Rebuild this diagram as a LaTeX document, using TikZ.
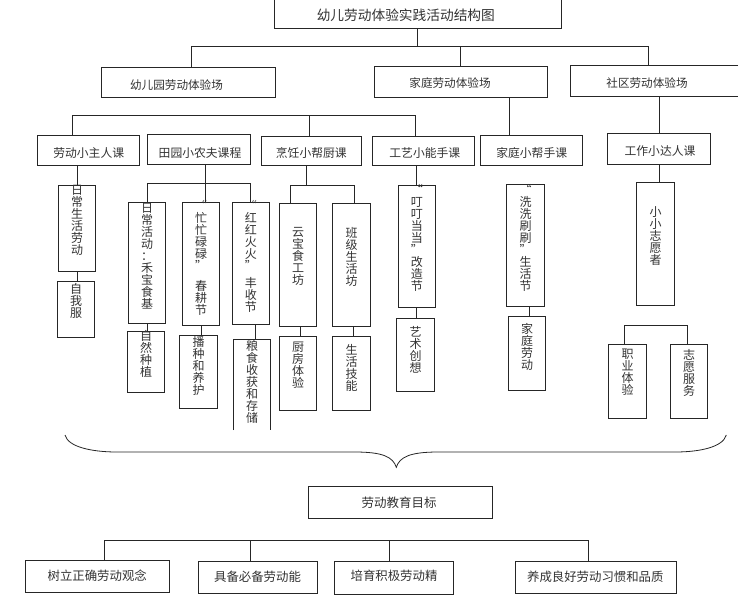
\documentclass[tikz,border=0pt]{standalone}
\usepackage{fontspec}
\newfontfamily\cjk{Noto Sans CJK SC}
\usetikzlibrary{fit}
\setlength{\lineskiplimit}{-20pt}
\tikzset{
  ln/.style={draw=black!85, line width=0.9pt},
  bx/.style={ln, inner sep=0pt},
  obx/.style={inner sep=0pt},
  hz/.style={font=\cjk\fontsize{#1}{#1}\selectfont, text=black!80, inner sep=0pt, anchor=base},
  vt/.style={font=\cjk\fontsize{12}{12}\selectfont, text=black!80, inner sep=0pt, align=center, anchor=north},
}
\newcommand\bxx[5]{\node[bx, fit={(#2,#3)(#4,#5)}] (#1) {};}
\newcommand\obxx[5]{\node[obx, fit={(#2,#3)(#4,#5)}] (#1) {};}
\newcommand\vtx[4]{\node[vt] (#1) at (#2,{#3-6.44}) {\rule{0pt}{11pt}#4};}
\begin{document}
\begin{tikzpicture}[x=1pt, y=-1pt]
\path[use as bounding box] (0,0) rectangle (754,598);
\fill[white] (0,0) rectangle (754,598);

% title
\bxx{title}{274}{-3}{561}{28}
\node[hz=13.7] (titlet) at (405.8,20.2) {幼儿劳动体验实践活动结构图};

% level 1
\bxx{k1}{101}{67}{275}{97}
\bxx{k2}{374}{66}{547.7}{97}
\obxx{k3}{571}{66}{738}{96}
\draw[ln] (k3.north east) -- (k3.north west) -- (k3.south west) -- (k3.south east);
\node[hz=11.6] (k1t) at (176.5,89.4) {幼儿园劳动体验场};
\node[hz=11.6] (k2t) at (450,87.7) {家庭劳动体验场};
\node[hz=11.6] (k3t) at (647,87.4) {社区劳动体验场};

\draw[ln] (title.south) -- ++(0,19);
\draw[ln] ([xshift=3pt]k1.north) -- ++(0,-20) -| ([xshift=-6.5pt]k3.north);
\draw[ln] (k2.north) -- ++(0,-19);

% level 2
\bxx{l1}{37.7}{135.7}{139}{165.3}
\bxx{l2}{147}{134}{250.3}{164.7}
\bxx{l3}{261}{136}{361}{165.3}
\bxx{l4}{372.7}{136}{474.3}{165.7}
\bxx{l5}{480}{135}{582.3}{165}
\bxx{l6}{607.7}{133.3}{710.3}{164}
\node[hz=11.8] (l1t) at (88.7,157.8) {劳动小主人课};
\node[hz=11.8] (l2t) at (200,157.8) {田园小农夫课程};
\node[hz=11.8] (l3t) at (311.3,157.8) {烹饪小帮厨课};
\node[hz=11.8] (l4t) at (424.8,157.8) {工艺小能手课};
\node[hz=11.8] (l5t) at (531.7,157.8) {家庭小帮手课};
\node[hz=11.8] (l6t) at (660,155.5) {工作小达人课};

\draw[ln] ([xshift=-15.6pt]l1.north) -- ++(0,-19.7) -| ([xshift=-7.8pt]l4.north);
\draw[ln] ([xshift=-2pt]l3.north) -- ++(0,-20);
\draw[ln] ([xshift=-22pt]l5.north) -- ++(0,-38);
\draw[ln] (l6.north) -- (l6.north |- k3.south);

% level 3 boxes
\bxx{m1}{58.3}{185}{95.7}{271.7}
\bxx{m1b}{57.3}{281}{94.7}{337.3}
\bxx{m2}{128.7}{202.3}{165.7}{323.3}
\bxx{m3}{182.3}{202}{219.7}{325}
\bxx{m4}{232.3}{202}{269.3}{324.3}
\bxx{m2b}{127.3}{331.7}{164.7}{392.3}
\bxx{m3b}{179.7}{335.7}{217.7}{408.3}
\obxx{m4b}{233.3}{340}{270.7}{430}
\draw[ln] (m4b.south west) -- (m4b.north west) -- (m4b.north east) -- (m4b.south east);
\bxx{m5}{279.3}{203.3}{316.7}{326}
\bxx{m6}{332.7}{203.3}{370.3}{326}
\bxx{m5b}{279.3}{336.7}{316.7}{410}
\bxx{m6b}{332.7}{336.7}{370.3}{410}
\bxx{m7}{398.3}{185}{435.3}{307.3}
\bxx{m7b}{396.7}{318.3}{434.3}{391}
\bxx{m8}{506.7}{184}{544.3}{306}
\bxx{m8b}{508}{316.7}{545.7}{390.7}
\bxx{m9}{636.7}{182.7}{674.3}{305}
\bxx{m10}{608.3}{344}{646.7}{418.3}
\bxx{m11}{670}{344}{707.7}{418.3}

% level 3 texts
\vtx{m1t}{77}{190}{日\\常\\生\\活\\劳\\动}
\vtx{m1bt}{76}{288.3}{自\\我\\服}
\vtx{m2t}{147.2}{208}{日\\常\\活\\动\\：\\禾\\宝\\食\\基}
\vtx{m3t}{201}{206}{“\\忙\\忙\\碌\\碌\\”\\[8pt]春\\耕\\节}
\vtx{m4t}{250.8}{206}{“\\红\\红\\火\\火\\”\\[5pt]丰\\收\\节}
\vtx{m2bt}{146}{336}{自\\然\\种\\植}
\vtx{m3bt}{198.7}{342}{播\\种\\和\\养\\护}
\vtx{m4bt}{252}{346}{粮\\食\\收\\获\\和\\存\\储}
\vtx{m5t}{298}{232}{云\\宝\\食\\工\\坊}
\vtx{m6t}{351.5}{233}{班\\级\\生\\活\\坊}
\vtx{m5bt}{298}{347}{厨\\房\\体\\验}
\vtx{m6bt}{351.5}{350}{生\\活\\技\\能}
\vtx{m7t}{416.8}{189.7}{“\\叮\\叮\\当\\当\\”\\改\\造\\节}
\vtx{m7bt}{415.5}{332}{艺\\术\\创\\想}
\vtx{m8t}{525.5}{189.7}{“\\洗\\洗\\刷\\刷\\”\\生\\活\\节}
\vtx{m8bt}{527}{328.3}{家\\庭\\劳\\动}
\vtx{m9t}{655.5}{211.7}{小\\小\\志\\愿\\者}
\vtx{m10t}{627.5}{353.3}{职\\业\\体\\验}
\vtx{m11t}{689}{355}{志\\愿\\服\\务}

% level 3 connectors
\draw[ln] (m1.north) -- (m1.north |- l1.south);
\draw[ln] (m1.south) -- (m1.south |- m1b.north);
\draw[ln] ([xshift=6.3pt]l2.south) -- ++(0,37.3);
\draw[ln] (m2.north) -- ++(0,-18.3) -| (m4.north);
\draw[ln] (m2.south) -- (m2.south |- m2b.north);
\draw[ln] (m3.south) -- (m3.south |- m3b.north);
\draw[ln] ([xshift=4.2pt]m4.south) -- ++(0,15.7);
\draw[ln] ([xshift=-5pt]l3.south) -- ++(0,20.4);
\draw[ln] ([xshift=-7.3pt]m5.north) -- ++(0,-17.6) -| ([xshift=2.8pt]m6.north);
\draw[ln] ([xshift=2.7pt]m5.south) -- ++(0,10.7);
\draw[ln] ([xshift=2.2pt]m6.south) -- ++(0,10.7);
\draw[ln] (m7.north) -- (m7.north |- l4.south);
\draw[ln] (m7.south) -- (m7.south |- m7b.north);
\draw[ln] ([xshift=3.5pt]m8.south) -- ++(0,10.7);
\draw[ln] (l6.south) -- (l6.south |- m9.north);
\draw[ln] ([xshift=-3.2pt]m10.north) -- ++(0,-18.3) -| ([xshift=-1.9pt]m11.north);

% brace
\draw[ln, line width=0.8pt] (65,435) .. controls (68,447) and (92,452) .. (117,452) -- (355,452)
  .. controls (383,452) and (393,457) .. (396.3,467.3)
  .. controls (399.5,457) and (410,452) .. (438,452) -- (675,452)
  .. controls (700,452) and (723,447) .. (726.3,435);

% goals
\bxx{goal}{308.7}{486.7}{492.3}{518}
\node[hz=12.5] (goalt) at (399,507.5) {劳动教育目标};
\bxx{g1}{25.7}{560}{169}{592.3}
\bxx{g2}{198.7}{561.3}{317.3}{593.7}
\bxx{g3}{334}{561}{453}{594}
\bxx{g4}{515.3}{561.3}{676.3}{593.3}
\node[hz=12.4] (g1t) at (97.2,580.4) {树立正确劳动观念};
\node[hz=12.4] (g2t) at (257.5,581.4) {具备必备劳动能};
\node[hz=12.4] (g3t) at (394,580.7) {培育积极劳动精};
\node[hz=12.4] (g4t) at (595.3,581.4) {养成良好劳动习惯和品质};
\draw[ln] ([xshift=7pt]g1.north) -- ++(0,-19.3) -| ([xshift=-7.5pt]g4.north);
\draw[ln] ([xshift=-7.3pt]g2.north) -- ++(0,-20.6);
\draw[ln] ([xshift=-4.5pt]g3.north) -- ++(0,-20.3);
\end{tikzpicture}
\end{document}
